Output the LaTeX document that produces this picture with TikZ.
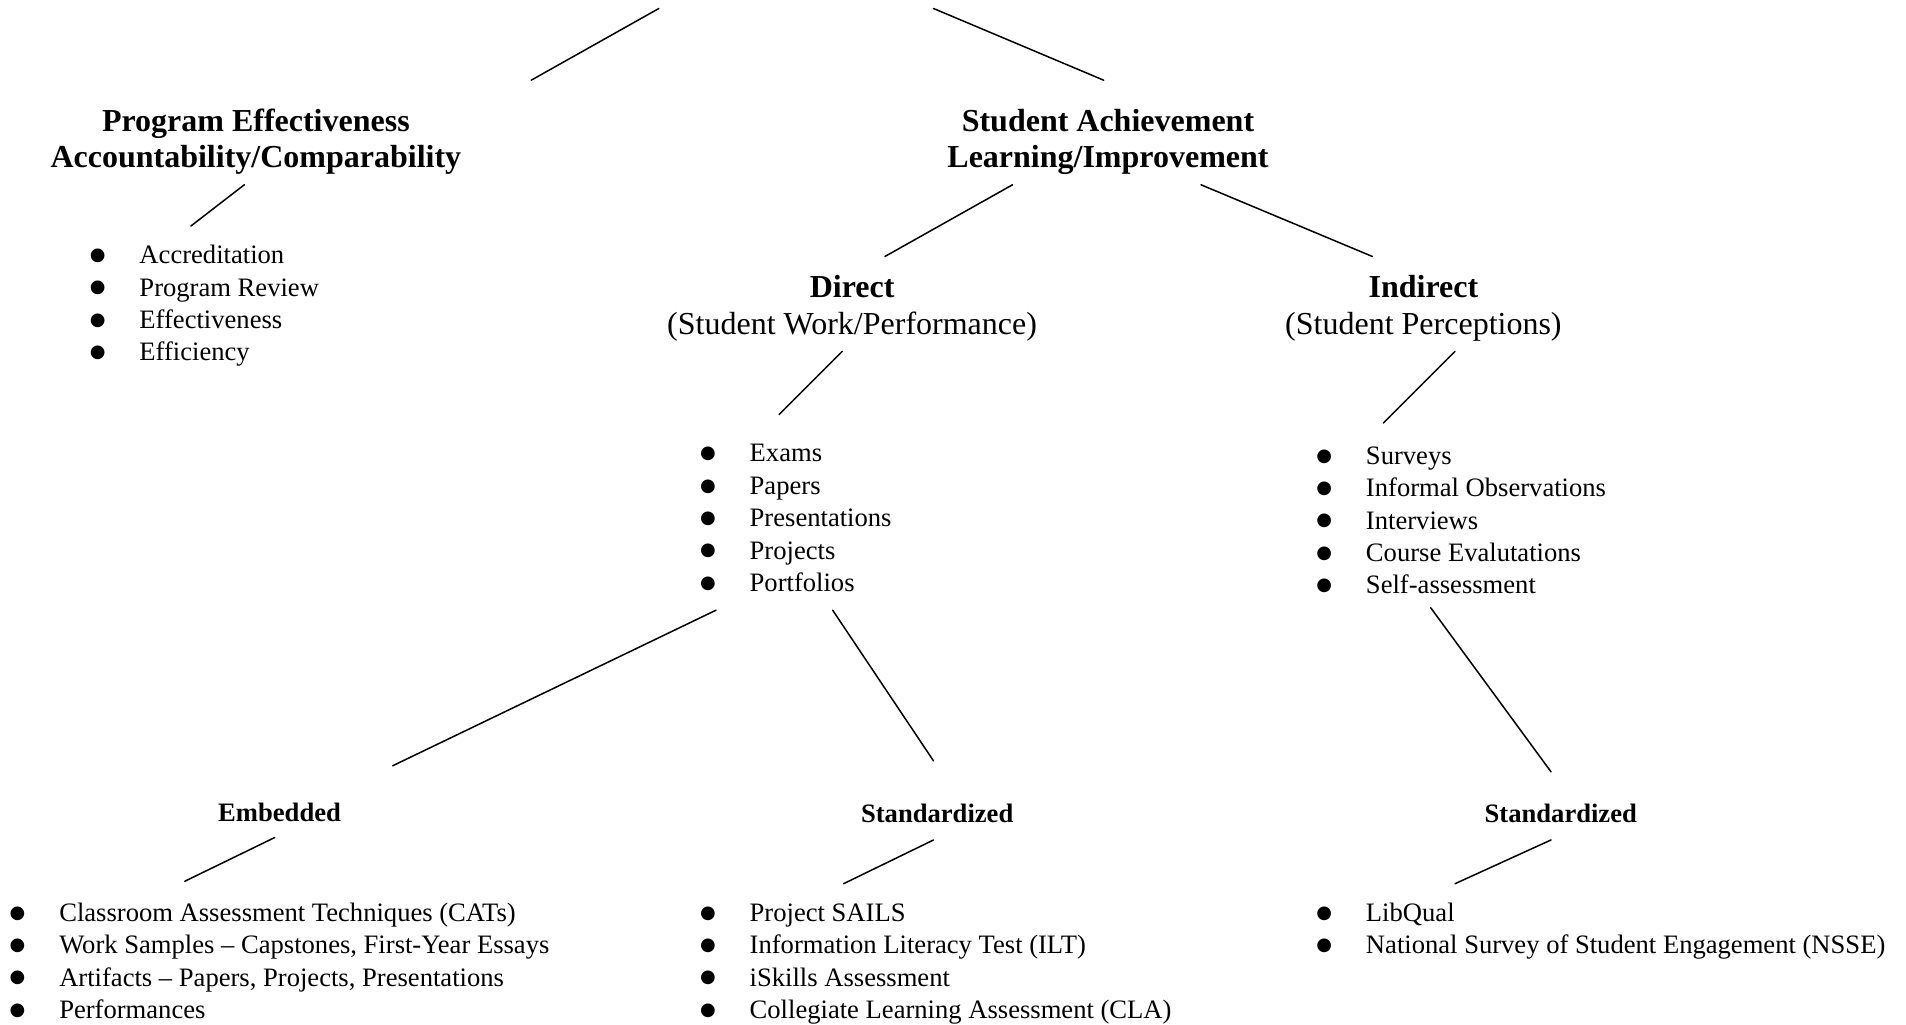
\documentclass[tikz,border=0pt]{standalone}
\usepackage{fontspec}
\setmainfont{Liberation Serif}
\newfontfamily\bulletfont{DejaVu Sans}
\newcommand{\bodyfnt}{\fontsize{13.3}{16.2}\selectfont}
\newcommand{\headfnt}{\fontsize{16}{18.2}\selectfont}
\newcommand{\blt}{\makebox[12.16pt][c]{\raisebox{1.6pt}{\bulletfont\fontsize{9}{10}\selectfont ●}}}
\newcommand{\blist}[1]{\begin{tabular}[t]{@{}p{27pt}@{}l@{}}#1\end{tabular}}
\newcommand{\hstack}[1]{\begin{tabular}[t]{@{}c@{}}#1\end{tabular}}
\begin{document}
\begin{tikzpicture}[x=0.6078pt,y=-0.6078pt,
  head/.style={inner sep=0pt, anchor=base, font=\headfnt},
  boldhead/.style={head, font=\headfnt\bfseries},
  sub/.style={inner sep=0pt, anchor=base, font=\bodyfnt\bfseries},
  listnode/.style={inner sep=0pt, anchor=base west, font=\bodyfnt},
  link/.style={line width=0.75pt, line cap=round}]
\useasboundingbox (0,0) rectangle (1568,843);

% headings
\node[boldhead] (pe) at (210.5,108) {\hstack{Program Effectiveness\\Accountability/Comparability}};
\node[boldhead] (sa) at (911.5,108) {\hstack{Student Achievement\\Learning/Improvement}};
\node[head] (dir) at (701,245) {\hstack{\textbf{Direct}\\(Student Work/Performance)}};
\node[head] (ind) at (1171,245) {\hstack{\textbf{Indirect}\\(Student Perceptions)}};
\node[sub] (emb) at (230,676) {Embedded};
\node[sub] (std) at (771,677) {Standardized};
\node[sub] (stdb) at (1284,677) {Standardized};

% lists (bullet centre = node x + 10)
\node[listnode] (plist) at (70,217) {\blist{\blt & Accreditation\\ \blt & Program Review\\ \blt & Effectiveness\\ \blt & Efficiency}};
\node[listnode] (dlist) at (572,380) {\blist{\blt & Exams\\ \blt & Papers\\ \blt & Presentations\\ \blt & Projects\\ \blt & Portfolios}};
\node[listnode] (ilist) at (1079,382) {\blist{\blt & Surveys\\ \blt & Informal Observations\\ \blt & Interviews\\ \blt & Course Evalutations\\ \blt & Self-assessment}};
\node[listnode] (elist) at (4,758) {\blist{\blt & Classroom Assessment Techniques (CATs)\\ \blt & Work Samples -- Capstones, First-Year Essays\\ \blt & Artifacts -- Papers, Projects, Presentations\\ \blt & Performances}};
\node[listnode] (slist) at (572,758) {\blist{\blt & Project SAILS\\ \blt & Information Literacy Test (ILT)\\ \blt & iSkills Assessment\\ \blt & Collegiate Learning Assessment (CLA)}};
\node[listnode] (sblist) at (1079,758) {\blist{\blt & LibQual\\ \blt & National Survey of Student Engagement (NSSE)}};

% connector end points
\coordinate (topL) at (542,7);   \coordinate (peT) at (437,66);
\coordinate (topR) at (768,7);   \coordinate (saT) at (908,66);
\coordinate (peB) at (201,152);  \coordinate (plT) at (157,186);
\coordinate (saBL) at (833,152); \coordinate (dirT) at (728,211);
\coordinate (saBR) at (988,152); \coordinate (indT) at (1129,211);
\coordinate (dirB) at (693,289); \coordinate (dlT) at (641,341);
\coordinate (indB) at (1197,289);\coordinate (ilT) at (1138,348);
\coordinate (dlBL) at (589,502); \coordinate (embT) at (323,630);
\coordinate (dlBR) at (685,502); \coordinate (stdT) at (768,626);
\coordinate (ilB) at (1177,500); \coordinate (stdbT) at (1276,635);
\coordinate (embB) at (226,689); \coordinate (elT) at (152,725);
\coordinate (stdB) at (768,691); \coordinate (slT) at (694,727);
\coordinate (stdbB) at (1276,691); \coordinate (sblT) at (1197,727);

\draw[link] (topL) -- (peT);
\draw[link] (topR) -- (saT);
\draw[link] (peB) -- (plT);
\draw[link] (saBL) -- (dirT);
\draw[link] (saBR) -- (indT);
\draw[link] (dirB) -- (dlT);
\draw[link] (indB) -- (ilT);
\draw[link] (dlBL) -- (embT);
\draw[link] (dlBR) -- (stdT);
\draw[link] (ilB) -- (stdbT);
\draw[link] (embB) -- (elT);
\draw[link] (stdB) -- (slT);
\draw[link] (stdbB) -- (sblT);
\end{tikzpicture}
\end{document}
